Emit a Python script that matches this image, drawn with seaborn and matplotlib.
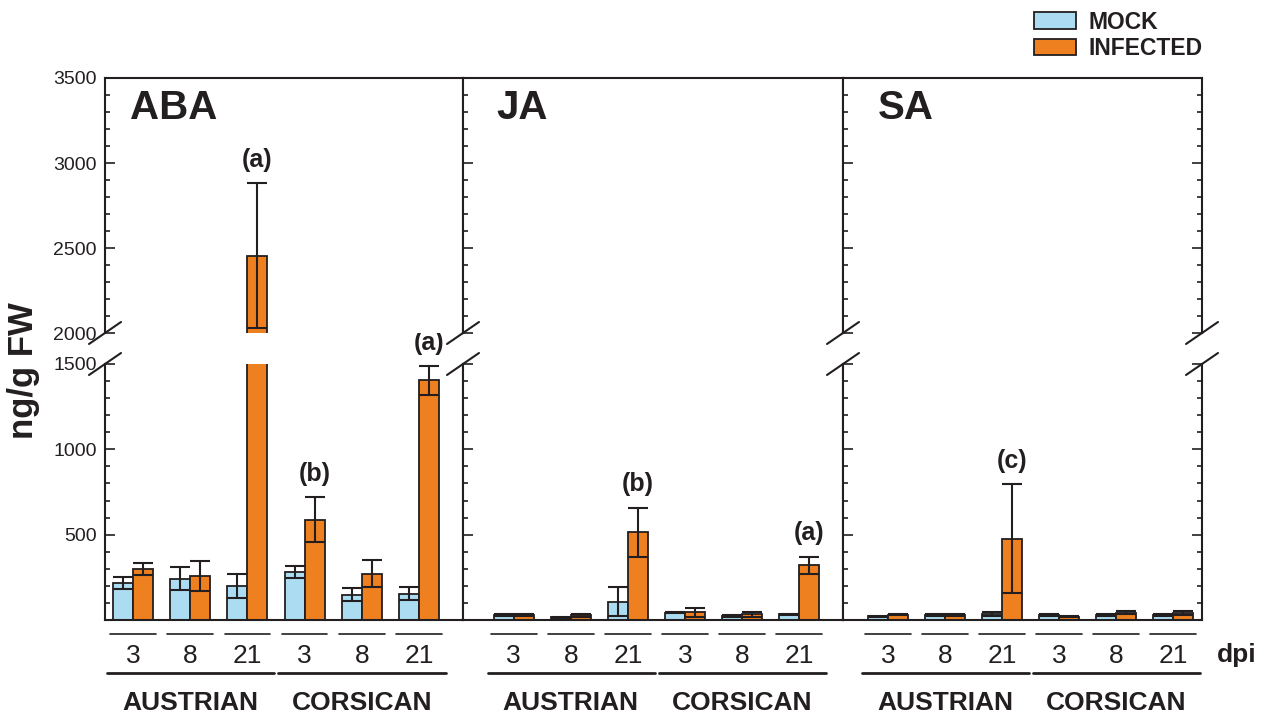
import pandas as pd
import seaborn as sns
import matplotlib.pyplot as plt
from matplotlib.ticker import MultipleLocator
from matplotlib.lines import Line2D
from matplotlib.patches import Patch

sns.set_style('ticks')
plt.rcParams['font.family'] = ['Liberation Sans', 'DejaVu Sans']

# data (ng/g FW), order: AUSTRIAN 3/8/21, CORSICAN 3/8/21
populations = ['AUSTRIAN', 'CORSICAN']
dpi_labels = ['3', '8', '21']
hormones = ['ABA', 'JA', 'SA']

aba_mock = [216, 243, 200, 282, 149, 155]
aba_mock_sd = [35, 68, 70, 34, 38, 40]
aba_inf = [298, 257, 2455, 588, 272, 1405]
aba_inf_sd = [35, 87, 425, 130, 78, 85]
aba_letters = ['', '', '(a)', '(b)', '', '(a)']

ja_mock = [29, 16, 108, 43, 23, 35]
ja_mock_sd = [4, 3, 85, 4, 4, 3]
ja_inf = [29, 27, 514, 45, 33, 320]
ja_inf_sd = [5, 9, 145, 27, 16, 52]
ja_letters = ['', '', '(b)', '', '', '(a)']

sa_mock = [23, 30, 35, 29, 29, 29]
sa_mock_sd = [3, 7, 13, 4, 4, 4]
sa_inf = [31, 29, 476, 20, 42, 40]
sa_inf_sd = [3, 4, 320, 3, 9, 10]
sa_letters = ['', '', '(c)', '', '', '']

panels = [
    (aba_mock, aba_mock_sd, aba_inf, aba_inf_sd, aba_letters),
    (ja_mock, ja_mock_sd, ja_inf, ja_inf_sd, ja_letters),
    (sa_mock, sa_mock_sd, sa_inf, sa_inf_sd, sa_letters),
]

c_mock = '#abdcf2'
c_inf = '#ef801f'
ink = '#231f20'

W, H = 1266, 719
def fx(px):
    return px / W
def fy(py):
    return 1 - py / H

fig = plt.figure(figsize=(12.66, 7.19), dpi=100)

panel_x = [105, 463, 843, 1202]
xlims = [(-0.49, 5.77), (-0.89, 5.77), (-0.79, 5.51)]
title_x = [0.07, 0.089, 0.097]
hi_top, hi_bot, lo_top, lo_bot = 78, 333, 364, 620

groups = [p + ' ' + d for p in populations for d in dpi_labels]

for i, (mock, mock_sd, inf, inf_sd, letters) in enumerate(panels):
    x0, x1 = panel_x[i], panel_x[i + 1]
    ax_lo = fig.add_axes([fx(x0), fy(lo_bot), fx(x1 - x0), (lo_bot - lo_top) / H])
    ax_hi = fig.add_axes([fx(x0), fy(hi_bot), fx(x1 - x0), (hi_bot - hi_top) / H])

    df = pd.DataFrame({'group': groups * 2,
                       'treatment': ['MOCK'] * 6 + ['INFECTED'] * 6,
                       'value': mock + inf})

    for ax in (ax_lo, ax_hi):
        sns.barplot(data=df, x='group', y='value', hue='treatment', order=groups,
                    hue_order=['MOCK', 'INFECTED'], palette=[c_mock, c_inf],
                    saturation=1, width=0.7, errorbar=None, edgecolor=ink,
                    linewidth=1.3, legend=False, ax=ax)
        for cont, sds in zip(ax.containers, [mock_sd, inf_sd]):
            xs = [b.get_x() + b.get_width() / 2 for b in cont]
            hs = [b.get_height() for b in cont]
            ax.errorbar(xs, hs, yerr=sds, fmt='none', ecolor=ink, elinewidth=1.5,
                        capsize=7, capthick=1.5, zorder=3)
        ax.set_xlim(xlims[i])
        ax.set_xlabel('')
        ax.set_ylabel('')
        for s in ax.spines.values():
            s.set_linewidth(1.5)
            s.set_color(ink)
        ax.yaxis.set_minor_locator(MultipleLocator(100))
        ax.tick_params(axis='y', which='both', direction='in', left=True,
                       right=(i == 2), labelleft=(i == 0), color=ink,
                       labelcolor=ink, labelsize=14, width=1.2, pad=6)
        ax.tick_params(axis='y', which='major', length=7)
        ax.tick_params(axis='y', which='minor', length=3.5)

    ax_lo.set_ylim(0, 1500)
    ax_lo.set_yticks([500, 1000, 1500])
    ax_hi.set_ylim(2000, 3500)
    ax_hi.set_yticks([2000, 2500, 3000, 3500])
    ax_hi.spines['bottom'].set_visible(False)
    ax_lo.spines['top'].set_visible(False)
    ax_hi.set_xticks([])

    ax_lo.set_xticks(range(6))
    ax_lo.set_xticklabels(dpi_labels * 2)
    ax_lo.tick_params(axis='x', length=0, pad=17, labelsize=19, labelcolor=ink)

    # significance letters above infected bars
    inf_bars = ax_lo.containers[1]
    for b, v, sd, lab in zip(inf_bars, inf, inf_sd, letters):
        if not lab:
            continue
        top = v + sd
        target = ax_hi if top > 1500 else ax_lo
        target.annotate(lab, (b.get_x() + b.get_width() / 2, top),
                        xytext=(0, 8), textcoords='offset points', ha='center',
                        va='bottom', fontsize=18, weight='bold', color=ink,
                        annotation_clip=False)

    # group lines and population labels under the axis
    tr = ax_lo.get_xaxis_transform()
    for k in range(6):
        ax_lo.plot([k - 0.4, k + 0.4], [-0.055, -0.055], transform=tr,
                   clip_on=False, color=ink, lw=1.2)
    for j, pop in enumerate(populations):
        ax_lo.plot([3 * j - 0.46, 3 * j + 2.47], [-0.208, -0.208], transform=tr,
                   clip_on=False, color=ink, lw=2)
        ax_lo.text(3 * j + 1, -0.325, pop, transform=tr, ha='center', va='center',
                   fontsize=19, weight='bold', color=ink)

    ax_hi.text(title_x[i], 0.882, hormones[i], transform=ax_hi.transAxes,
               fontsize=29, weight='bold', va='center', ha='left', color=ink)

# axis break marks
for x in panel_x:
    for y in (hi_bot, lo_top):
        fig.add_artist(Line2D([fx(x - 16), fx(x + 16)], [fy(y + 11), fy(y - 11)],
                              color=ink, lw=1.5))

fig.text(fx(1237), fy(655), 'dpi', ha='center', va='center', fontsize=19,
         weight='bold', color=ink)
fig.text(fx(24), fy(371), 'ng/g FW', rotation=90, ha='center', va='center',
         fontsize=25, weight='bold', color=ink)

handles = [Patch(facecolor=c_mock, edgecolor=ink, linewidth=1.3),
           Patch(facecolor=c_inf, edgecolor=ink, linewidth=1.3)]
leg = fig.legend(handles, ['MOCK', 'INFECTED'], loc='upper left',
                 bbox_to_anchor=(fx(1013), fy(-10)), frameon=False,
                 handlelength=1.87, handleheight=0.72, handletextpad=0.52,
                 labelspacing=0.15, prop={'weight': 'bold', 'size': 16.5})
for t in leg.get_texts():
    t.set_color(ink)

fig.savefig('out.png', dpi=100)
